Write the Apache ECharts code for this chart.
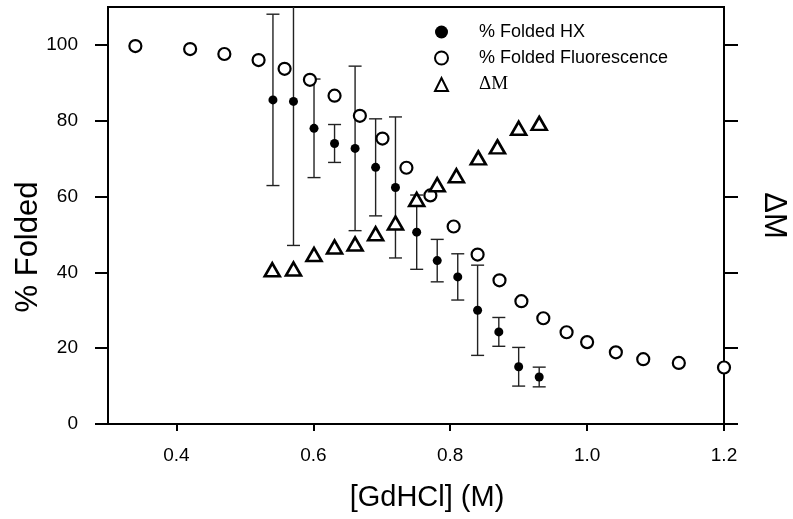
<!DOCTYPE html>
<html><head><meta charset="utf-8">
<script src="https://cdn.jsdelivr.net/npm/echarts@6/dist/echarts.min.js"></script>
<style>html,body{margin:0;padding:0;background:#fff}#c{width:793px;height:519px}</style>
</head><body><div id="c"></div>
<script>
// [GdHCl] (M) and % folded from fluorescence
const concFluor = [0.34, 0.42, 0.47, 0.52, 0.558, 0.595, 0.631, 0.668, 0.701, 0.736, 0.771, 0.805, 0.84, 0.872, 0.904, 0.936, 0.97, 1.0, 1.042, 1.082, 1.134, 1.2];
const foldedFluor = [99.7, 98.9, 97.6, 96.0, 93.7, 90.8, 86.6, 81.3, 75.3, 67.6, 60.3, 52.1, 44.7, 37.9, 32.4, 27.9, 24.2, 21.6, 18.9, 17.1, 16.1, 14.9];
// % folded from HX with error
const concHX = [0.541, 0.571, 0.601, 0.631, 0.661, 0.691, 0.720, 0.751, 0.781, 0.811, 0.840, 0.871, 0.900, 0.930];
const foldedHX = [85.5, 85.1, 78.0, 74.0, 72.7, 67.7, 62.4, 50.6, 43.1, 38.8, 30.0, 24.3, 15.1, 12.4];
const errHX = [22.6, 38.0, 13.0, 5.0, 21.7, 12.8, 18.6, 9.8, 5.6, 6.1, 11.9, 3.8, 5.1, 2.6];
// Delta M
const concDM = [0.540, 0.571, 0.601, 0.631, 0.661, 0.691, 0.720, 0.751, 0.781, 0.809, 0.841, 0.869, 0.900, 0.930];
const deltaM = [40.7, 40.9, 44.7, 46.7, 47.5, 50.2, 53.0, 59.2, 63.1, 65.5, 70.2, 73.1, 78.0, 79.3];
// ticks
const xTicks = [0.4, 0.6, 0.8, 1.0, 1.2];
const yTicks = [0, 20, 40, 60, 80, 100];

const F = '"Liberation Sans", Arial, Helvetica, sans-serif';
const chart = echarts.init(document.getElementById('c'), null, {renderer: 'canvas'});

const hxData = concHX.map((x, i) => [x, foldedHX[i]]);
const hxErr = concHX.map((x, i) => [x, foldedHX[i] - errHX[i], foldedHX[i] + errHX[i]]);
const flData = concFluor.map((x, i) => [x, foldedFluor[i]]);
const dmData = concDM.map((x, i) => [x, deltaM[i]]);

const axisLineStyle = {color: '#000', width: 2};

const option = {
  animation: false,
  backgroundColor: '#fff',
  grid: {left: 108, right: 69, top: 7, bottom: 95, outerBoundsMode: 'none', containLabel: false, show: true, borderColor: '#000', borderWidth: 2, backgroundColor: 'transparent'},
  legend: {
    orient: 'vertical',
    left: 429,
    top: 18,
    itemWidth: 13,
    itemHeight: 13,
    itemGap: 8,
    textStyle: {fontFamily: F, fontSize: 18, color: '#000', padding: [0, 0, 0, 26]},
    data: [
      {name: '% Folded HX'},
      {name: '% Folded Fluorescence'},
      {name: 'ΔM', textStyle: {fontFamily: '"Liberation Serif", "Times New Roman", serif', fontSize: 19, color: '#000', padding: [0, 0, 0, 26]}}
    ]
  },
  xAxis: {
    type: 'value', min: 0.3, max: 1.2,
    name: '[GdHCl] (M)', nameLocation: 'middle', nameGap: 59, nameMoveOverlap: false,
    nameTextStyle: {fontFamily: F, fontSize: 29, color: '#000', padding: [0, 0, 0, 22]},
    axisLine: {show: true, lineStyle: axisLineStyle},
    axisTick: {show: true, customValues: xTicks, length: 7, lineStyle: axisLineStyle},
    axisLabel: {customValues: xTicks, formatter: v => v.toFixed(1), margin: 22, fontFamily: F, fontSize: 19, color: '#000'},
    splitLine: {show: false}
  },
  yAxis: [
    {
      type: 'value', min: 0, max: 110, position: 'left',
      name: '% Folded', nameLocation: 'middle', nameGap: 64, nameMoveOverlap: false,
      nameTextStyle: {fontFamily: F, fontSize: 31, color: '#000', padding: [0, 63, 0, 0]},
      axisLine: {show: true, lineStyle: axisLineStyle},
      axisTick: {show: true, customValues: yTicks, length: 13, lineStyle: axisLineStyle},
      axisLabel: {customValues: yTicks, margin: 30, fontFamily: F, fontSize: 19, color: '#000'},
      splitLine: {show: false}
    },
    {
      type: 'value', min: 0, max: 110, position: 'right',
      name: 'ΔM', nameLocation: 'middle', nameGap: 34, nameRotate: -90, nameMoveOverlap: false,
      nameTextStyle: {fontFamily: F, fontSize: 31, color: '#000'},
      axisLine: {show: true, lineStyle: axisLineStyle},
      axisTick: {show: true, customValues: yTicks, length: 14, lineStyle: axisLineStyle},
      axisLabel: {show: false},
      splitLine: {show: false}
    }
  ],
  series: [
    {
      name: 'HX error', type: 'custom', yAxisIndex: 0, clip: true, z: 1,
      data: hxErr,
      encode: {x: 0, y: [1, 2]},
      renderItem: function (params, api) {
        const x = api.value(0), lo = api.value(1), hi = api.value(2);
        const pLo = api.coord([x, lo]), pHi = api.coord([x, hi]);
        const w = 6.5;
        const style = {stroke: '#222', lineWidth: 1.4, fill: null};
        return {
          type: 'group',
          children: [
            {type: 'line', shape: {x1: pLo[0], y1: pLo[1], x2: pHi[0], y2: pHi[1]}, style: style},
            {type: 'line', shape: {x1: pLo[0] - w, y1: pLo[1], x2: pLo[0] + w, y2: pLo[1]}, style: style},
            {type: 'line', shape: {x1: pHi[0] - w, y1: pHi[1], x2: pHi[0] + w, y2: pHi[1]}, style: style}
          ]
        };
      }
    },
    {
      name: '% Folded Fluorescence', type: 'scatter', yAxisIndex: 0, z: 2,
      symbol: 'circle', symbolSize: 12,
      itemStyle: {color: '#fff', borderColor: '#000', borderWidth: 2.2, opacity: 1},
      data: flData
    },
    {
      name: 'ΔM', type: 'scatter', yAxisIndex: 1, z: 3,
      symbol: 'triangle', symbolSize: [15, 13],
      itemStyle: {color: '#fff', borderColor: '#000', borderWidth: 2.6, opacity: 1},
      data: dmData
    },
    {
      name: '% Folded HX', type: 'scatter', yAxisIndex: 0, z: 4,
      symbol: 'circle', symbolSize: 9,
      itemStyle: {color: '#000', opacity: 1},
      data: hxData
    }
  ]
};
chart.setOption(option);
</script>
</body></html>
